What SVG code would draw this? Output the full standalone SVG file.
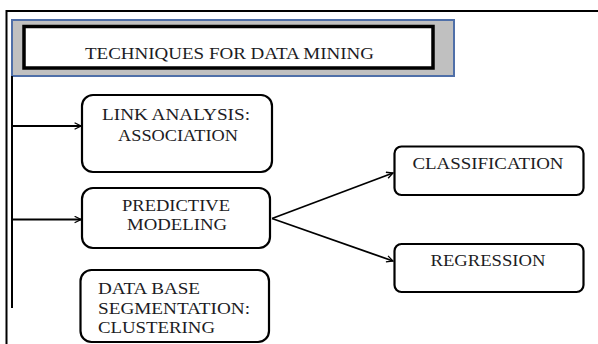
<svg xmlns="http://www.w3.org/2000/svg" width="598" height="344" viewBox="0 0 598 344">
<defs>
<style>
.frame{fill:none;stroke:#000;stroke-width:2}
.box{fill:#fff;stroke:#000;stroke-width:2.2}
.t{font-family:"Liberation Serif","Times New Roman",serif;font-size:16px;fill:#1c1c24}
.conn{fill:none;stroke:#000;stroke-width:1.8}
</style>
<marker id="ah" viewBox="0 0 10 10" refX="9" refY="5" markerWidth="8" markerHeight="8" markerUnits="userSpaceOnUse" orient="auto">
<path d="M1,1 L9,5 L1,9" fill="none" stroke="#000" stroke-width="1.6"/>
</marker>
</defs>
<rect width="598" height="344" fill="#fff"/>
<g id="frame">
<path class="frame" d="M6.5,344 V11 H598"/>
</g>
<g id="title">
<rect x="12" y="20" width="442" height="56" fill="#c0c0c0" stroke="#4f6fa8" stroke-width="2"/>
<rect x="24" y="26.5" width="409" height="41.5" fill="#fff" stroke="#000" stroke-width="3.5"/>
<text class="t" x="85" y="58.5" textLength="289" lengthAdjust="spacingAndGlyphs">TECHNIQUES FOR DATA MINING</text>
</g>
<g id="connectors">
<path class="frame" d="M12,76 V308"/>
<path class="conn" d="M12,126 H81" marker-end="url(#ah)"/>
<path class="conn" d="M12,219.5 H81" marker-end="url(#ah)"/>
<path class="conn" d="M272,218.5 L393,173" marker-end="url(#ah)"/>
<path class="conn" d="M272,218.5 L393,261" marker-end="url(#ah)"/>
</g>
<g id="link-analysis">
<rect class="box" x="82" y="95" width="190" height="77" rx="11"/>
<text class="t" x="102" y="120" textLength="148" lengthAdjust="spacingAndGlyphs">LINK ANALYSIS:</text>
<text class="t" x="118" y="141" textLength="120" lengthAdjust="spacingAndGlyphs">ASSOCIATION</text>
</g>
<g id="predictive-modeling">
<rect class="box" x="82" y="188" width="188" height="60" rx="11"/>
<text class="t" x="122" y="211" textLength="108" lengthAdjust="spacingAndGlyphs">PREDICTIVE</text>
<text class="t" x="127" y="230" textLength="100" lengthAdjust="spacingAndGlyphs">MODELING</text>
</g>
<g id="database-segmentation">
<rect class="box" x="80.5" y="270" width="188.5" height="72" rx="11"/>
<text class="t" x="98" y="293.5" textLength="102" lengthAdjust="spacingAndGlyphs">DATA BASE</text>
<text class="t" x="98" y="313.5" textLength="152" lengthAdjust="spacingAndGlyphs">SEGMENTATION:</text>
<text class="t" x="98" y="332.5" textLength="117" lengthAdjust="spacingAndGlyphs">CLUSTERING</text>
</g>
<g id="classification">
<rect class="box" x="394.5" y="146.5" width="189" height="48.5" rx="7"/>
<text class="t" x="412.5" y="169" textLength="151" lengthAdjust="spacingAndGlyphs">CLASSIFICATION</text>
</g>
<g id="regression">
<rect class="box" x="394.5" y="244" width="189" height="48" rx="7"/>
<text class="t" x="430.5" y="266" textLength="115" lengthAdjust="spacingAndGlyphs">REGRESSION</text>
</g>
</svg>
